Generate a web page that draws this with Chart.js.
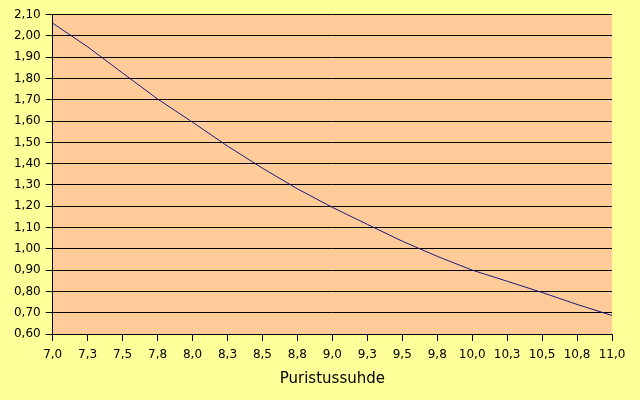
<!DOCTYPE html>
<html>
<head>
<meta charset="utf-8">
<script src="https://cdn.jsdelivr.net/npm/chart.js@4"></script>
<style>
html,body{margin:0;padding:0;background:#FFFF99;}
#wrap{width:640px;height:400px;position:relative;}
canvas{display:block;}
</style>
</head>
<body>
<div id="wrap"><canvas id="c" width="640" height="400"></canvas></div>
<script>
const categories = ['7,0','7,3','7,5','7,8','8,0','8,3','8,5','8,8','9,0','9,3','9,5','9,8','10,0','10,3','10,5','10,8','11,0'];
const seriesValues = [2.060,1.949,1.826,1.704,1.595,1.483,1.379,1.282,1.195,1.115,1.036,0.965,0.900,0.848,0.795,0.739,0.687];
const yMin = 0.6, yMax = 2.1, yStep = 0.1;
const xTitle = 'Puristussuhde';

const plotBg = {
  id: 'plotBg',
  beforeDraw(chart) {
    const {ctx, chartArea: a} = chart;
    ctx.save();
    ctx.fillStyle = '#FFFF99';
    ctx.fillRect(0, 0, chart.width, chart.height);
    ctx.fillStyle = '#FFCC99';
    ctx.fillRect(a.left, a.top, a.right - a.left, a.bottom - a.top);
    ctx.restore();
  }
};

new Chart(document.getElementById('c'), {
  type: 'line',
  data: {
    labels: categories,
    datasets: [{
      data: seriesValues,
      borderColor: '#1a1a80',
      borderWidth: 1,
      pointRadius: 0,
      tension: 0,
      fill: false
    }]
  },
  options: {
    responsive: false,
    animation: false,
    devicePixelRatio: 1,
    layout: { padding: { top: 14.7, right: 28, left: 0, bottom: 0 } },
    plugins: { legend: { display: false }, tooltip: { enabled: false } },
    scales: {
      x: {
        type: 'category',
        offset: false,
        afterFit(s) { s.height = 66; },
        grid: { drawOnChartArea: false, drawTicks: true, tickLength: 7, color: '#000', lineWidth: 1 },
        border: { color: '#000', width: 1 },
        ticks: { color: '#000', font: { family: 'DejaVu Sans', size: 12 }, padding: 7, autoSkip: false, maxRotation: 0 },
        title: { display: true, text: xTitle, color: '#000', font: { family: 'DejaVu Sans', size: 15 }, padding: { top: 0, bottom: 12 } }
      },
      y: {
        min: yMin, max: yMax,
        afterFit(s) { s.width = 52.7; },
        grid: { drawOnChartArea: true, drawTicks: true, tickLength: 7, color: '#000', lineWidth: 1 },
        border: { color: '#000', width: 1 },
        ticks: {
          stepSize: yStep, color: '#000', padding: 5,
          font: { family: 'DejaVu Sans', size: 12 },
          callback: v => Number(v).toFixed(2).replace('.', ',')
        }
      }
    }
  },
  plugins: [plotBg]
});
</script>
</body>
</html>
